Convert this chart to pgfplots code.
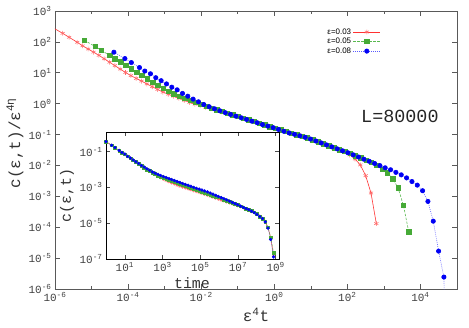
\documentclass[border=0pt]{standalone}
\usepackage{fontspec}
\setmainfont{Liberation Mono}
\newfontfamily\legfont{Liberation Sans}
\usepackage{pgfplots}
\usepackage{pgfplotstable}
\pgfplotsset{compat=1.18}

\definecolor{cred}{RGB}{255,50,50}
\definecolor{credm}{RGB}{255,105,105}
\definecolor{cgreen}{RGB}{90,185,80}
\definecolor{cgreenm}{RGB}{70,170,55}
\definecolor{cblue}{RGB}{90,90,255}
\definecolor{cbluem}{RGB}{0,0,245}

% c(eps,t) read off the inset / main panel, t = time
\pgfplotstableread{
t c
1 3.63e-1
2 2.26e-1
3 1.68e-1
5 1.16e-1
7 8.91e-2
1.00e1 7.01e-2
1.40e1 5.55e-2
1.96e1 4.39e-2
2.74e1 3.39e-2
3.84e1 2.62e-2
5.37e1 2.03e-2
7.52e1 1.57e-2
1.05e2 1.22e-2
1.47e2 9.66e-3
2.06e2 7.85e-3
2.88e2 6.40e-3
4.04e2 5.20e-3
5.65e2 4.23e-3
7.91e2 3.44e-3
1.11e3 2.82e-3
1.55e3 2.42e-3
2.17e3 2.07e-3
3.03e3 1.78e-3
4.25e3 1.53e-3
5.94e3 1.31e-3
8.32e3 1.15e-3
1.16e4 1.03e-3
1.63e4 9.14e-4
2.28e4 8.15e-4
3.19e4 7.35e-4
4.47e4 6.55e-4
6.25e4 5.83e-4
8.75e4 5.20e-4
1.22e5 4.63e-4
1.71e5 4.08e-4
2.40e5 3.61e-4
3.36e5 3.18e-4
4.70e5 2.80e-4
6.58e5 2.47e-4
9.20e5 2.17e-4
1.29e6 1.92e-4
1.80e6 1.71e-4
2.52e6 1.51e-4
3.53e6 1.34e-4
4.94e6 1.19e-4
6.92e6 1.06e-4
9.68e6 9.40e-5
1.36e7 8.13e-5
1.90e7 7.03e-5
2.65e7 6.07e-5
3.72e7 5.25e-5
5.20e7 4.54e-5
7.28e7 3.92e-5
1.02e8 3.39e-5
1.43e8 2.61e-5
2.00e8 1.93e-5
2.79e8 1.24e-5
3.91e8 5.57e-6
5.47e8 1.53e-6
7.66e8 1.56e-7
}\tred

\pgfplotstableread{
t c
1 3.63e-1
2 2.26e-1
3 1.68e-1
5 1.16e-1
7 8.91e-2
1.00e1 7.11e-2
1.40e1 5.47e-2
1.96e1 4.26e-2
2.74e1 3.34e-2
3.84e1 2.61e-2
5.37e1 2.04e-2
7.52e1 1.58e-2
1.05e2 1.23e-2
1.47e2 1.02e-2
2.06e2 8.13e-3
2.88e2 6.58e-3
4.04e2 5.55e-3
5.65e2 4.70e-3
7.91e2 4.04e-3
1.11e3 3.48e-3
1.55e3 2.99e-3
2.17e3 2.58e-3
3.03e3 2.30e-3
4.25e3 2.03e-3
5.94e3 1.79e-3
8.32e3 1.58e-3
1.16e4 1.39e-3
1.63e4 1.22e-3
2.28e4 1.08e-3
3.19e4 9.51e-4
4.47e4 8.38e-4
6.25e4 7.38e-4
8.75e4 6.52e-4
1.22e5 5.74e-4
1.71e5 5.07e-4
2.40e5 4.51e-4
3.36e5 4.00e-4
4.70e5 3.55e-4
6.58e5 3.15e-4
9.20e5 2.79e-4
1.29e6 2.48e-4
1.80e6 2.14e-4
2.52e6 1.85e-4
3.53e6 1.60e-4
4.94e6 1.38e-4
6.92e6 1.20e-4
9.68e6 1.03e-4
1.36e7 8.93e-5
1.90e7 7.71e-5
2.65e7 6.56e-5
3.72e7 5.58e-5
5.20e7 4.75e-5
7.28e7 4.05e-5
1.02e8 3.24e-5
1.43e8 2.39e-5
2.00e8 1.86e-5
2.79e8 1.19e-5
3.91e8 5.94e-6
5.47e8 1.64e-6
7.66e8 2.24e-7
}\tgreen

\pgfplotstableread{
t c
1 3.63e-1
2 2.26e-1
3 1.68e-1
5 1.16e-1
7 8.91e-2
1.00e1 7.28e-2
1.40e1 5.43e-2
1.96e1 4.35e-2
2.74e1 3.42e-2
3.84e1 2.68e-2
5.37e1 2.20e-2
7.52e1 1.68e-2
1.05e2 1.37e-2
1.47e2 1.10e-2
2.06e2 9.02e-3
2.88e2 7.35e-3
4.04e2 6.24e-3
5.65e2 5.36e-3
7.91e2 4.61e-3
1.11e3 4.01e-3
1.55e3 3.52e-3
2.17e3 3.09e-3
3.03e3 2.74e-3
4.25e3 2.42e-3
5.94e3 2.13e-3
8.32e3 1.89e-3
1.16e4 1.65e-3
1.63e4 1.47e-3
2.28e4 1.31e-3
3.19e4 1.15e-3
4.47e4 1.00e-3
6.25e4 8.83e-4
8.75e4 8.00e-4
1.22e5 7.16e-4
1.71e5 6.37e-4
2.40e5 5.61e-4
3.36e5 4.85e-4
4.70e5 4.20e-4
6.58e5 3.62e-4
9.20e5 3.13e-4
1.29e6 2.70e-4
1.80e6 2.34e-4
2.52e6 2.02e-4
3.53e6 1.73e-4
4.94e6 1.47e-4
6.92e6 1.25e-4
9.68e6 1.07e-4
1.36e7 9.08e-5
1.90e7 7.73e-5
2.65e7 6.58e-5
3.72e7 5.68e-5
5.20e7 4.68e-5
7.28e7 3.89e-5
1.02e8 3.10e-5
1.43e8 2.36e-5
2.00e8 1.81e-5
2.79e8 1.19e-5
3.91e8 5.37e-6
5.47e8 1.23e-6
7.66e8 1.32e-7
1.07e9 1.91e-8
1.50e9 1e-16
}\tblue

\begin{document}
\begin{tikzpicture}
\path[use as bounding box] (-55bp,-39bp) rectangle (414bp,289bp);

% main panel: c/eps^{4 eta} against eps^4 t  (eta = 0.48)
\begin{axis}[
  at={(0,0)}, anchor=south west, scale only axis,
  width=402bp, height=278bp,
  xmode=log, ymode=log, log basis x=10, log basis y=10,
  xmin=1e-6, xmax=1e5, ymin=1e-6, ymax=1e3,
  xtick={1e-6,1e-4,1e-2,1,1e2,1e4},
  xticklabels={10\textsuperscript{-6},10\textsuperscript{-4},10\textsuperscript{-2},10\textsuperscript{0},10\textsuperscript{2},10\textsuperscript{4}},
  minor xtick={1e-5,1e-3,1e-1,10,1e3,1e5},
  ytick={1e-6,1e-5,1e-4,1e-3,1e-2,1e-1,1,10,100,1000},
  yticklabels={10\textsuperscript{-6},10\textsuperscript{-5},10\textsuperscript{-4},10\textsuperscript{-3},10\textsuperscript{-2},10\textsuperscript{-1},10\textsuperscript{0},10\textsuperscript{1},10\textsuperscript{2},10\textsuperscript{3}},
  tick align=inside, major tick length=5bp, minor tick length=3bp,
  axis line style={black!65, line width=0.9pt},
  every tick/.style={black!65, line width=0.6pt},
  tick label style={font=\fontsize{11}{11}\selectfont, text=black!75},
  xlabel={ε\textsuperscript{4}t},
  ylabel={c(ε,t)/ε\textsuperscript{4η}},
  label style={font=\fontsize{16}{16}\selectfont, text=black!80},
  xlabel style={at={(axis description cs:0.5,-0.094)}, anchor=center},
  ylabel style={at={(axis description cs:-0.0995,0.525)}, anchor=center, rotate=0},
  legend style={draw=none, fill=none, font=\legfont\fontsize{8}{8}\selectfont,
    at={(0.81,0.945)}, anchor=north east, row sep=-1.5pt, inner sep=0pt},
  legend cell align=right, legend plot pos=right,
  legend image code/.code={\draw[mark repeat=2,mark phase=2] plot coordinates {(0cm,0cm) (0.47cm,0cm) (0.94cm,0cm)};},
]
\addplot[cred, line width=0.6pt, mark=asterisk, mark size=2.4pt,
  mark options={solid, draw=credm, line width=0.55pt}]
  table[x expr=\thisrow{t}*8.1e-7, y expr=\thisrow{c}*839.5] {\tred};
\addlegendentry{ε=0.03}
\addplot[cgreen, line width=0.6pt, dash pattern=on 2.5pt off 1.5pt, mark=square*, mark size=2.2pt,
  mark options={solid, draw=cgreenm, fill=cgreenm}]
  table[x expr=\thisrow{t}*6.25e-6, y expr=\thisrow{c}*314.8] {\tgreen};
\addlegendentry{ε=0.05}
\addplot[cblue, line width=0.6pt, dash pattern=on 0.8pt off 1.2pt, mark=*, mark size=2.2pt,
  mark options={solid, draw=cbluem, fill=cbluem}]
  table[x expr=\thisrow{t}*4.096e-5, y expr=\thisrow{c}*127.6] {\tblue};
\addlegendentry{ε=0.08}
\node[font=\fontsize{18.5}{18.5}\selectfont, text=black!85] at (rel axis cs:0.858,0.619) {L=80000};
\end{axis}

% inset: c(eps,t) against time
\begin{axis}[
  at={(51bp,30bp)}, anchor=south west, scale only axis,
  width=173bp, height=127bp,
  xmode=log, ymode=log, log basis x=10, log basis y=10,
  xmin=1, xmax=1.5e9, ymin=1e-7, ymax=1.25,
  axis background/.style={fill=white},
  xtick={10,1e3,1e5,1e7,1e9},
  xticklabels={10\textsuperscript{1},10\textsuperscript{3},10\textsuperscript{5},10\textsuperscript{7},10\textsuperscript{9}},
  ytick={1e-7,1e-5,1e-3,1e-1},
  yticklabels={10\textsuperscript{-7},10\textsuperscript{-5},10\textsuperscript{-3},10\textsuperscript{-1}},
  tick align=inside, major tick length=4bp, minor tick length=0bp,
  axis line style={black, line width=0.8pt},
  every tick/.style={black!70, line width=0.6pt},
  tick label style={font=\fontsize{11}{11}\selectfont, text=black!75},
  xlabel={time}, ylabel={c(ε,t)},
  label style={font=\fontsize{15}{15}\selectfont, text=black!80},
  xlabel style={at={(axis description cs:0.497,-0.19)}, anchor=center},
  ylabel style={at={(axis description cs:-0.225,0.5)}, anchor=center},
]
\addplot[cred, line width=0.5pt, mark=asterisk, mark size=1.6pt,
  mark options={solid, draw=credm, line width=0.45pt}]
  table[x=t, y=c] {\tred};
\addplot[cgreen, line width=0.5pt, dash pattern=on 2.5pt off 1.5pt, mark=square*, mark size=1.4pt,
  mark options={solid, draw=cgreenm, fill=cgreenm}]
  table[x=t, y=c] {\tgreen};
\addplot[cblue, line width=0.5pt, dash pattern=on 0.8pt off 1.2pt, mark=*, mark size=1.4pt,
  mark options={solid, draw=cbluem, fill=cbluem}]
  table[x=t, y=c] {\tblue};
\end{axis}
\end{tikzpicture}
\end{document}
